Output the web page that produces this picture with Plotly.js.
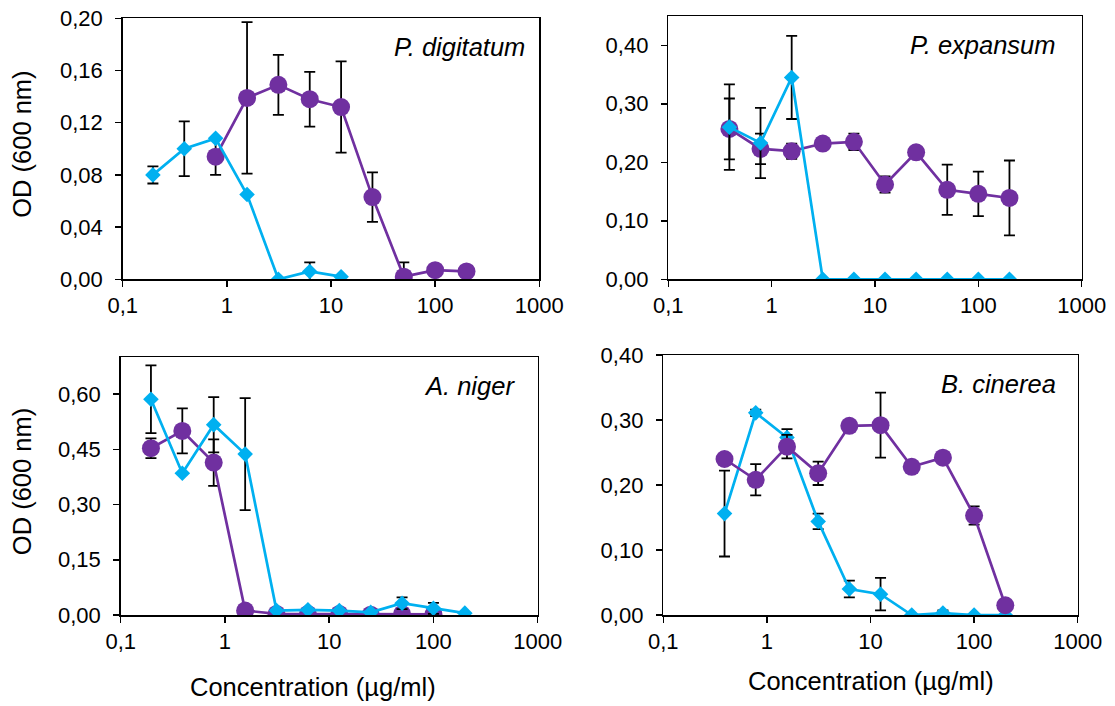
<!DOCTYPE html>
<html>
<head>
<meta charset="utf-8">
<script src="https://cdn.plot.ly/plotly-3.0.1.min.js"></script>
<style>
  html, body { margin: 0; padding: 0; background: #fff; }
  #chart { width: 1115px; height: 706px; }
</style>
</head>
<body>
<div id="chart"></div>
<script>
// Two-fold dilution series (µg/ml)
const concentration = [0.195, 0.39, 0.78, 1.5625, 3.125, 6.25, 12.5, 25, 50, 100, 200];
const concTickVals = [0.1, 1, 10, 100, 1000];
const concTickText = ['0,1', '1', '10', '100', '1000'];

const species = ['P. digitatum', 'P. expansum', 'A. niger', 'B. cinerea'];

// OD600 readings, circle series (purple) and diamond series (blue), with SD
const digitatumCircle    = [null, null, 0.094, 0.139, 0.149, 0.138, 0.132, 0.063, 0.002, 0.007, 0.006];
const digitatumCircleSd  = [null, null, 0.014, 0.058, 0.023, 0.021, 0.035, 0.019, 0.011, 0, 0];
const digitatumDiamond   = [0.080, 0.100, 0.108, 0.065, 0.000, 0.006, 0.002, null, null, null, null];
const digitatumDiamondSd = [0.0066, 0.021, 0, 0, 0, 0.007, 0, null, null, null, null];

const expansumCircle    = [null, 0.257, 0.223, 0.219, 0.232, 0.235, 0.162, 0.217, 0.153, 0.146, 0.139];
const expansumCircleSd  = [null, 0.052, 0.026, 0.013, 0, 0.014, 0.014, 0, 0.043, 0.038, 0.064];
const expansumDiamond   = [null, 0.260, 0.233, 0.345, 0, 0, 0, 0, 0, 0, 0];
const expansumDiamondSd = [null, 0.073, 0.060, 0.071, 0, 0, 0, 0, 0, 0, 0];

const nigerCircle    = [0.453, 0.500, 0.414, 0.012, 0.003, 0.003, 0.003, 0.001, 0.003, 0.002, null];
const nigerCircleSd  = [0.027, 0.061, 0.063, 0, 0, 0, 0, 0, 0, 0, null];
const nigerDiamond   = [0.586, 0.385, 0.517, 0.437, 0.012, 0.014, 0.012, 0.007, 0.032, 0.018, 0.005];
const nigerDiamondSd = [0.092, 0, 0.075, 0.152, 0, 0, 0, 0, 0.016, 0.015, 0];

const cinereaCircle    = [null, 0.240, 0.208, 0.259, 0.218, 0.291, 0.292, 0.228, 0.242, 0.153, 0.015];
const cinereaCircleSd  = [null, 0, 0.024, 0.018, 0.018, 0, 0.050, 0, 0, 0.014, 0];
const cinereaDiamond   = [null, 0.156, 0.311, 0.273, 0.144, 0.040, 0.032, 0.000, 0.003, 0.000, 0.000];
const cinereaDiamondSd = [null, 0.066, 0.005, 0.013, 0.012, 0.013, 0.025, 0, 0.004, 0, 0];

const PURPLE = '#7030A0';
const BLUE = '#00B0F0';
const FONT = 'Liberation Sans, Arial, sans-serif';
const W = 1115, H = 706;
const TICK_SIZE = 22;
const TITLE_SIZE = 25.5;

// Panel frames in pixels: left, right, top, bottom; y-axis range and tick step
const panels = [
  { l: 122.7, r: 539.3, t: 18.3, b: 279.3, yMax: 0.20, dy: 0.04, circle: digitatumCircle, circleSd: digitatumCircleSd, diamond: digitatumDiamond, diamondSd: digitatumDiamondSd, circleOnTop: false, labelRight: 527 },
  { l: 668.3, r: 1081.7, t: 16.0, b: 279.3, yMax: 0.45, dy: 0.10, circle: expansumCircle, circleSd: expansumCircleSd, diamond: expansumDiamond, diamondSd: expansumDiamondSd, circleOnTop: false, labelRight: 1058 },
  { l: 120.7, r: 537.7, t: 357.3, b: 615.0, yMax: 0.70, dy: 0.15, circle: nigerCircle, circleSd: nigerCircleSd, diamond: nigerDiamond, diamondSd: nigerDiamondSd, circleOnTop: false, labelRight: 517 },
  { l: 663.3, r: 1077.7, t: 355.0, b: 615.0, yMax: 0.40, dy: 0.10, circle: cinereaCircle, circleSd: cinereaCircleSd, diamond: cinereaDiamond, diamondSd: cinereaDiamondSd, circleOnTop: true, labelRight: 1058 }
];

const px2x = p => p / W;
const px2y = p => 1 - p / H;

const traces = [];
const layout = {
  width: W, height: H,
  margin: { l: 0, r: 0, t: 0, b: 0 },
  paper_bgcolor: '#fff',
  plot_bgcolor: '#fff',
  showlegend: false,
  separators: ', ',
  font: { family: FONT, color: '#000' },
  annotations: []
};

const errStyle = (arr) => ({ type: 'data', array: arr, visible: true, color: '#000', thickness: 1.8, width: 5.5 });

panels.forEach((p, i) => {
  const n = i === 0 ? '' : String(i + 1);
  const xa = 'x' + n, ya = 'y' + n;

  layout['xaxis' + n] = {
    domain: [px2x(p.l), px2x(p.r)],
    anchor: ya,
    type: 'log',
    range: [-1, 3],
    tickmode: 'array',
    tickvals: concTickVals,
    ticktext: concTickText,
    ticks: 'outside', ticklen: 6, tickwidth: 1.5, tickcolor: '#000',
    showline: true, linecolor: '#000', linewidth: 1.5, mirror: true,
    showgrid: false, zeroline: false,
    tickfont: { family: FONT, size: TICK_SIZE, color: '#000' },
    fixedrange: true
  };
  layout['yaxis' + n] = {
    domain: [px2y(p.b), px2y(p.t)],
    anchor: xa,
    range: [0, p.yMax],
    tick0: 0, dtick: p.dy,
    tickformat: '.2f',
    ticks: 'outside', ticklen: 6, tickwidth: 1.5, tickcolor: '#000',
    ticklabelstandoff: 8,
    showline: true, linecolor: '#000', linewidth: 1.5, mirror: true,
    showgrid: false, zeroline: false,
    tickfont: { family: FONT, size: TICK_SIZE, color: '#000' },
    fixedrange: true
  };

  const circleTrace = {
    x: concentration, y: p.circle, xaxis: xa, yaxis: ya,
    type: 'scatter', mode: 'lines+markers',
    line: { color: PURPLE, width: 2.7 },
    marker: { symbol: 'circle', size: 18, color: PURPLE },
    error_y: errStyle(p.circleSd),
    hoverinfo: 'skip'
  };
  const diamondTrace = {
    x: concentration, y: p.diamond, xaxis: xa, yaxis: ya,
    type: 'scatter', mode: 'lines+markers',
    line: { color: BLUE, width: 2.7 },
    marker: { symbol: 'diamond', size: 12, color: BLUE },
    error_y: errStyle(p.diamondSd),
    hoverinfo: 'skip'
  };
  if (p.circleOnTop) traces.push(diamondTrace, circleTrace);
  else traces.push(circleTrace, diamondTrace);

  // Species name in the upper-right corner of each panel
  layout.annotations.push({
    xref: 'paper', yref: 'paper',
    x: px2x(p.labelRight), y: px2y(p.t + 29),
    xanchor: 'right', yanchor: 'middle',
    text: '<i>' + species[i] + '</i>',
    showarrow: false,
    font: { family: FONT, size: TITLE_SIZE, color: '#000' }
  });
});

// Axis titles
const yTitle = 'OD (600 nm)';
const xTitle = 'Concentration (µg/ml)';
[[18.3, 279.3], [357.3, 615.0]].forEach(([t, b]) => {
  layout.annotations.push({
    xref: 'paper', yref: 'paper',
    x: px2x(22), y: px2y((t + b) / 2 - 4),
    xanchor: 'center', yanchor: 'middle', textangle: -90,
    text: yTitle, showarrow: false,
    font: { family: FONT, size: TITLE_SIZE, color: '#000' }
  });
});
[[313, 687], [871, 681]].forEach(([cx, cy]) => {
  layout.annotations.push({
    xref: 'paper', yref: 'paper',
    x: px2x(cx), y: px2y(cy),
    xanchor: 'center', yanchor: 'middle',
    text: xTitle, showarrow: false,
    font: { family: FONT, size: TITLE_SIZE, color: '#000' }
  });
});

Plotly.newPlot('chart', traces, layout, { staticPlot: true, displayModeBar: false });
</script>
</body>
</html>
